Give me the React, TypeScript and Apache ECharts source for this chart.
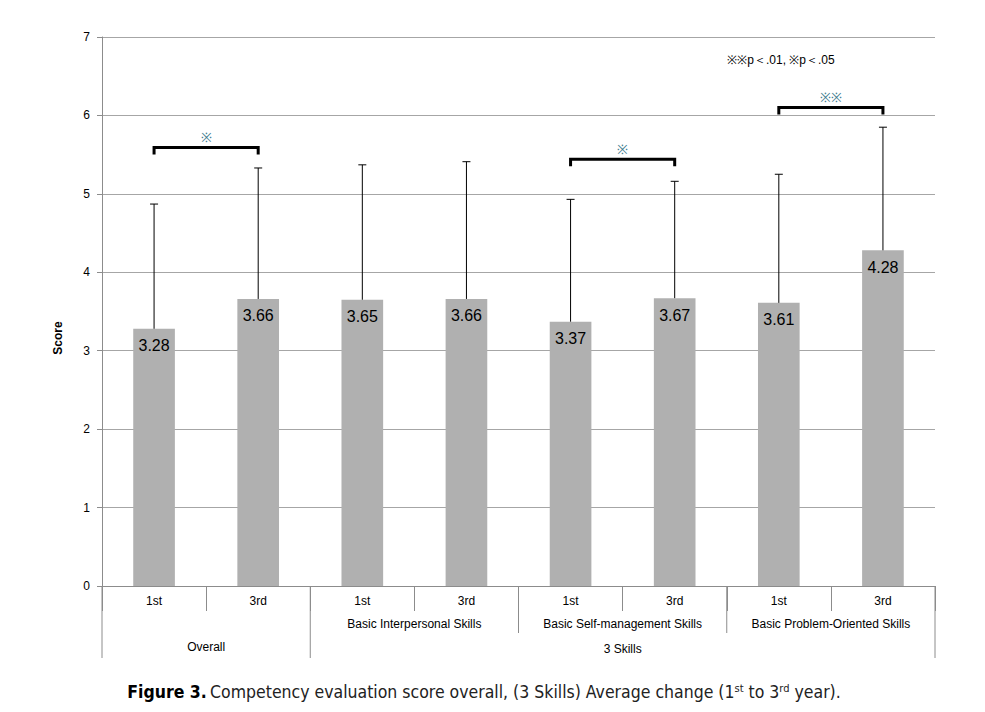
import React, { useEffect, useRef } from "react";
import * as echarts from "echarts";

const categories = ["1st", "3rd", "1st", "3rd", "1st", "3rd", "1st", "3rd"];
const meanScores = [3.28, 3.66, 3.65, 3.66, 3.37, 3.67, 3.61, 4.28];
const errorUpper = [4.87, 5.33, 5.37, 5.41, 4.93, 5.16, 5.25, 5.85];
const yTicks = [0, 1, 2, 3, 4, 5, 6, 7];
const midGroups = [
  { label: "", start: 0, end: 2 },
  { label: "Basic Interpersonal Skills", start: 2, end: 4 },
  { label: "Basic Self-management Skills", start: 4, end: 6 },
  { label: "Basic Problem-Oriented Skills", start: 6, end: 8 },
];
const topGroups = [
  { label: "Overall", start: 0, end: 2 },
  { label: "3 Skills", start: 2, end: 8 },
];
const significance = [
  { from: 0, to: 1, y: 5.59, mark: "※" },
  { from: 4, to: 5, y: 5.44, mark: "※" },
  { from: 6, to: 7, y: 6.1, mark: "※※" },
];
const legendText = "※※p＜.01, ※p＜.05";

const W = 985;
const H = 712;
const L = 102;
const R = 935;
const T = 37;
const B = 586;
const FONT = "'Liberation Sans', Arial, sans-serif";
const CAPTION_FONT = "'Liberation Sans Narrow', 'DejaVu Sans Condensed', sans-serif";

export default function App() {
  const ref = useRef<HTMLDivElement>(null);
  useEffect(() => {
    if (!ref.current) return;
    const chart = echarts.init(ref.current, null, { renderer: "svg" });
    const cw = (R - L) / categories.length;
    const xAt = (i: number) => L + i * cw;
    const graphics: any[] = [];
    const axisColor = "#8c8c8c";
    [0, 2, 8].forEach((i) =>
      graphics.push({
        type: "line",
        shape: { x1: xAt(i), y1: B, x2: xAt(i), y2: 658 },
        style: { stroke: axisColor, lineWidth: 1 },
      })
    );
    [4, 6].forEach((i) =>
      graphics.push({
        type: "line",
        shape: { x1: xAt(i), y1: B, x2: xAt(i), y2: 633 },
        style: { stroke: axisColor, lineWidth: 1 },
      })
    );
    midGroups.forEach((g) => {
      if (!g.label) return;
      graphics.push({
        type: "text",
        x: (xAt(g.start) + xAt(g.end)) / 2,
        y: 624,
        style: {
          text: g.label,
          fontFamily: FONT,
          fontSize: 12,
          fill: "#000",
          textAlign: "center",
          textVerticalAlign: "middle",
        },
      });
    });
    topGroups.forEach((g, k) => {
      graphics.push({
        type: "text",
        x: (xAt(g.start) + xAt(g.end)) / 2,
        y: k === 0 ? 647 : 649,
        style: {
          text: g.label,
          fontFamily: FONT,
          fontSize: 12,
          fill: "#000",
          textAlign: "center",
          textVerticalAlign: "middle",
        },
      });
    });
    graphics.push({
      type: "text",
      x: 58,
      y: 338,
      rotation: Math.PI / 2,
      style: {
        text: "Score",
        fontFamily: FONT,
        fontSize: 12,
        fontWeight: "bold",
        fill: "#000",
        textAlign: "center",
        textVerticalAlign: "middle",
      },
    });
    graphics.push({
      type: "text",
      x: 781,
      y: 60,
      style: {
        text: legendText,
        fontFamily: FONT,
        fontSize: 12,
        fill: "#000",
        textAlign: "center",
        textVerticalAlign: "middle",
      },
    });
    graphics.push({
      type: "text",
      x: 484,
      y: 692,
      style: {
        text:
          "{b|Figure 3.} {n|Competency evaluation score overall, (3 Skills) Average change (1}{s|st}{n| to 3}{s|rd}{n| year).}",
        textAlign: "center",
        textVerticalAlign: "middle",
        rich: {
          b: { fontFamily: CAPTION_FONT, fontSize: 17.5, fontWeight: "bold", fill: "#000" },
          n: { fontFamily: CAPTION_FONT, fontSize: 17.5, fill: "#222" },
          s: {
            fontFamily: CAPTION_FONT,
            fontSize: 11,
            fill: "#222",
            verticalAlign: "top",
            padding: [0, 0, 8, 0],
          },
        },
      },
    });

    chart.setOption({
      animation: false,
      backgroundColor: "#fff",
      grid: { left: L, right: W - R, top: T, bottom: H - B, containLabel: false },
      xAxis: {
        type: "category",
        data: categories,
        boundaryGap: true,
        axisLine: { lineStyle: { color: axisColor } },
        axisTick: { show: true, interval: 0, length: 25, lineStyle: { color: axisColor } },
        axisLabel: { interval: 0, fontFamily: FONT, fontSize: 12, color: "#000", margin: 9 },
      },
      yAxis: {
        type: "value",
        min: yTicks[0],
        max: yTicks[yTicks.length - 1],
        interval: 1,
        axisLine: { show: true, lineStyle: { color: axisColor } },
        axisTick: { show: true, length: 5, lineStyle: { color: axisColor } },
        axisLabel: { fontFamily: FONT, fontSize: 12, color: "#000", margin: 12 },
        splitLine: { lineStyle: { color: "#a6a6a6" } },
      },
      series: [
        {
          type: "bar",
          data: meanScores,
          barWidth: "40%",
          itemStyle: { color: "#b0b0b0" },
          label: {
            show: true,
            position: "insideTop",
            distance: 9,
            fontFamily: FONT,
            fontSize: 16,
            color: "#000",
            formatter: (p: any) => Number(p.value).toFixed(2),
          },
          z: 2,
        },
        {
          type: "custom",
          z: 3,
          data: meanScores.map((m, i) => [i, errorUpper[i], m]),
          encode: { x: 0, y: 1 },
          renderItem: (params: any, api: any) => {
            const top = api.coord([api.value(0), api.value(1)]);
            const base = api.coord([api.value(0), api.value(2)]);
            return {
              type: "group",
              children: [
                {
                  type: "line",
                  shape: { x1: top[0], y1: base[1], x2: top[0], y2: top[1] },
                  style: { stroke: "#000", lineWidth: 1 },
                },
                {
                  type: "line",
                  shape: { x1: top[0] - 4, y1: top[1], x2: top[0] + 4, y2: top[1] },
                  style: { stroke: "#000", lineWidth: 1 },
                },
              ],
            };
          },
        },
        {
          type: "custom",
          z: 4,
          data: significance.map((s) => [s.from, s.y, s.to]),
          encode: { x: 0, y: 1 },
          renderItem: (params: any, api: any) => {
            const a = api.coord([api.value(0), api.value(1)]);
            const b = api.coord([api.value(2), api.value(1)]);
            const mark = significance[params.dataIndex].mark;
            return {
              type: "group",
              children: [
                {
                  type: "polyline",
                  shape: {
                    points: [
                      [a[0], a[1] + 7],
                      [a[0], a[1]],
                      [b[0], b[1]],
                      [b[0], b[1] + 7],
                    ],
                  },
                  style: { stroke: "#000", lineWidth: 3, fill: null },
                },
                {
                  type: "text",
                  x: (a[0] + b[0]) / 2,
                  y: a[1] - 10,
                  style: {
                    text: mark,
                    fontFamily: FONT,
                    fontSize: 13,
                    fill: "#3f7c90",
                    textAlign: "center",
                    textVerticalAlign: "middle",
                  },
                },
              ],
            };
          },
        },
      ],
      graphic: graphics,
    });
    return () => chart.dispose();
  }, []);
  return (
    <div
      ref={ref}
      style={{ position: "absolute", left: 0, top: 0, width: W, height: H }}
    />
  );
}
